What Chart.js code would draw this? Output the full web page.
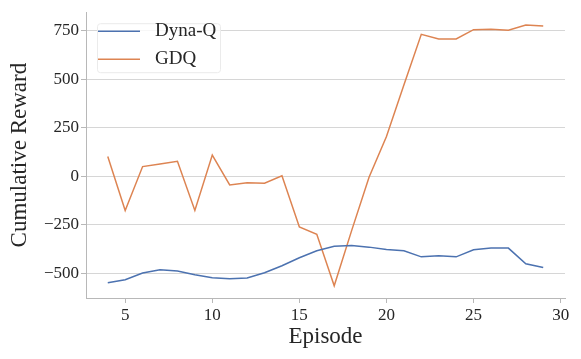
<!DOCTYPE html>
<html>
<head>
<meta charset="utf-8">
<script src="https://cdn.jsdelivr.net/npm/chart.js@4.4.0/dist/chart.umd.min.js"></script>
<style>
  html, body { margin: 0; padding: 0; background: #fff; }
  #wrap { width: 581px; height: 359px; }
</style>
</head>
<body>
<div id="wrap"><canvas id="chart" width="581" height="359"></canvas></div>
<script>
// Data
const episodes = [4, 5, 6, 7, 8, 9, 10, 11, 12, 13, 14, 15, 16, 17, 18, 19, 20, 21, 22, 23, 24, 25, 26, 27, 28, 29];
const dynaQ = [-549, -533, -498, -482, -488, -507, -523, -528, -524, -497, -461, -420, -384, -360, -357, -365, -377, -384, -415, -410, -415, -379, -370, -370, -451, -470];
const gdq = [102, -176, 50, 63, 77, -176, 109, -45, -33, -36, 2, -261, -299, -564, -280, -5, 205, 470, 731, 707, 707, 755, 757, 752, 779, 774];
const xTicks = [5, 10, 15, 20, 25, 30];
const yTicks = [-500, -250, 0, 250, 500, 750];

const FONT = "'Liberation Serif', 'DejaVu Serif', serif";
const textColor = "#262626";
const spineColor = "#b8b8b8";

function toPoints(ys) {
  return episodes.map((e, i) => ({ x: e, y: ys[i] }));
}

// legend drawn inside the plot, top-left, like matplotlib
const innerLegend = {
  id: "innerLegend",
  afterDatasetsDraw(chart) {
    const ctx = chart.ctx;
    const area = chart.chartArea;
    const x0 = area.left + 11, y0 = area.top + 11;
    ctx.save();
    ctx.fillStyle = "rgba(255,255,255,0.8)";
    ctx.strokeStyle = "#ebebeb";
    ctx.lineWidth = 1;
    ctx.beginPath();
    ctx.roundRect(x0 + 0.5, y0 + 0.5, 123, 49, 3);
    ctx.fill();
    ctx.stroke();
    ctx.font = "19px " + FONT;
    ctx.textBaseline = "middle";
    chart.data.datasets.forEach((ds, i) => {
      const yy = y0 + 8 + i * 28;
      ctx.strokeStyle = ds.borderColor;
      ctx.lineWidth = 1.5;
      ctx.beginPath();
      ctx.moveTo(x0 + 1, yy);
      ctx.lineTo(x0 + 43, yy);
      ctx.stroke();
      ctx.fillStyle = textColor;
      ctx.fillText(ds.label, x0 + 58, yy);
    });
    ctx.restore();
  }
};

new Chart(document.getElementById("chart"), {
  type: "line",
  data: {
    datasets: [
      { label: "Dyna-Q", data: toPoints(dynaQ), borderColor: "#4c72b0", borderWidth: 1.5, pointRadius: 0, tension: 0 },
      { label: "GDQ", data: toPoints(gdq), borderColor: "#dd8452", borderWidth: 1.5, pointRadius: 0, tension: 0 }
    ]
  },
  options: {
    responsive: false,
    animation: false,
    layout: { padding: { top: 10, right: 16, left: 0, bottom: 0 } },
    plugins: { legend: { display: false }, tooltip: { enabled: false } },
    scales: {
      x: {
        type: "linear",
        min: 2.75,
        max: 30.25,
        afterBuildTicks: (s) => { s.ticks = xTicks.map(v => ({ value: v })); },
        afterFit: (s) => { s.height = 61; },
        grid: { drawOnChartArea: false, drawTicks: true, tickLength: 5, tickColor: spineColor },
        border: { display: true, color: spineColor, width: 1 },
        ticks: { color: textColor, font: { family: FONT, size: 17 }, padding: 2, maxRotation: 0 },
        title: { display: true, text: "Episode", color: textColor, font: { family: FONT, size: 23 }, padding: { top: 0, bottom: 8 } }
      },
      y: {
        min: -627,
        max: 845,
        afterBuildTicks: (s) => { s.ticks = yTicks.map(v => ({ value: v })); },
        afterFit: (s) => { s.width = 86; },
        grid: { color: "#d6d6d6", lineWidth: 1, drawTicks: true, tickLength: 5, tickColor: spineColor },
        border: { display: true, color: spineColor, width: 1 },
        ticks: {
          color: textColor,
          font: { family: FONT, size: 17 },
          padding: 2,
          callback: (v) => String(v).replace("-", "\u2212")
        },
        title: { display: true, text: "Cumulative Reward", color: textColor, font: { family: FONT, size: 23 }, padding: { top: 6, bottom: 0 } }
      }
    }
  },
  plugins: [innerLegend]
});
</script>
</body>
</html>
